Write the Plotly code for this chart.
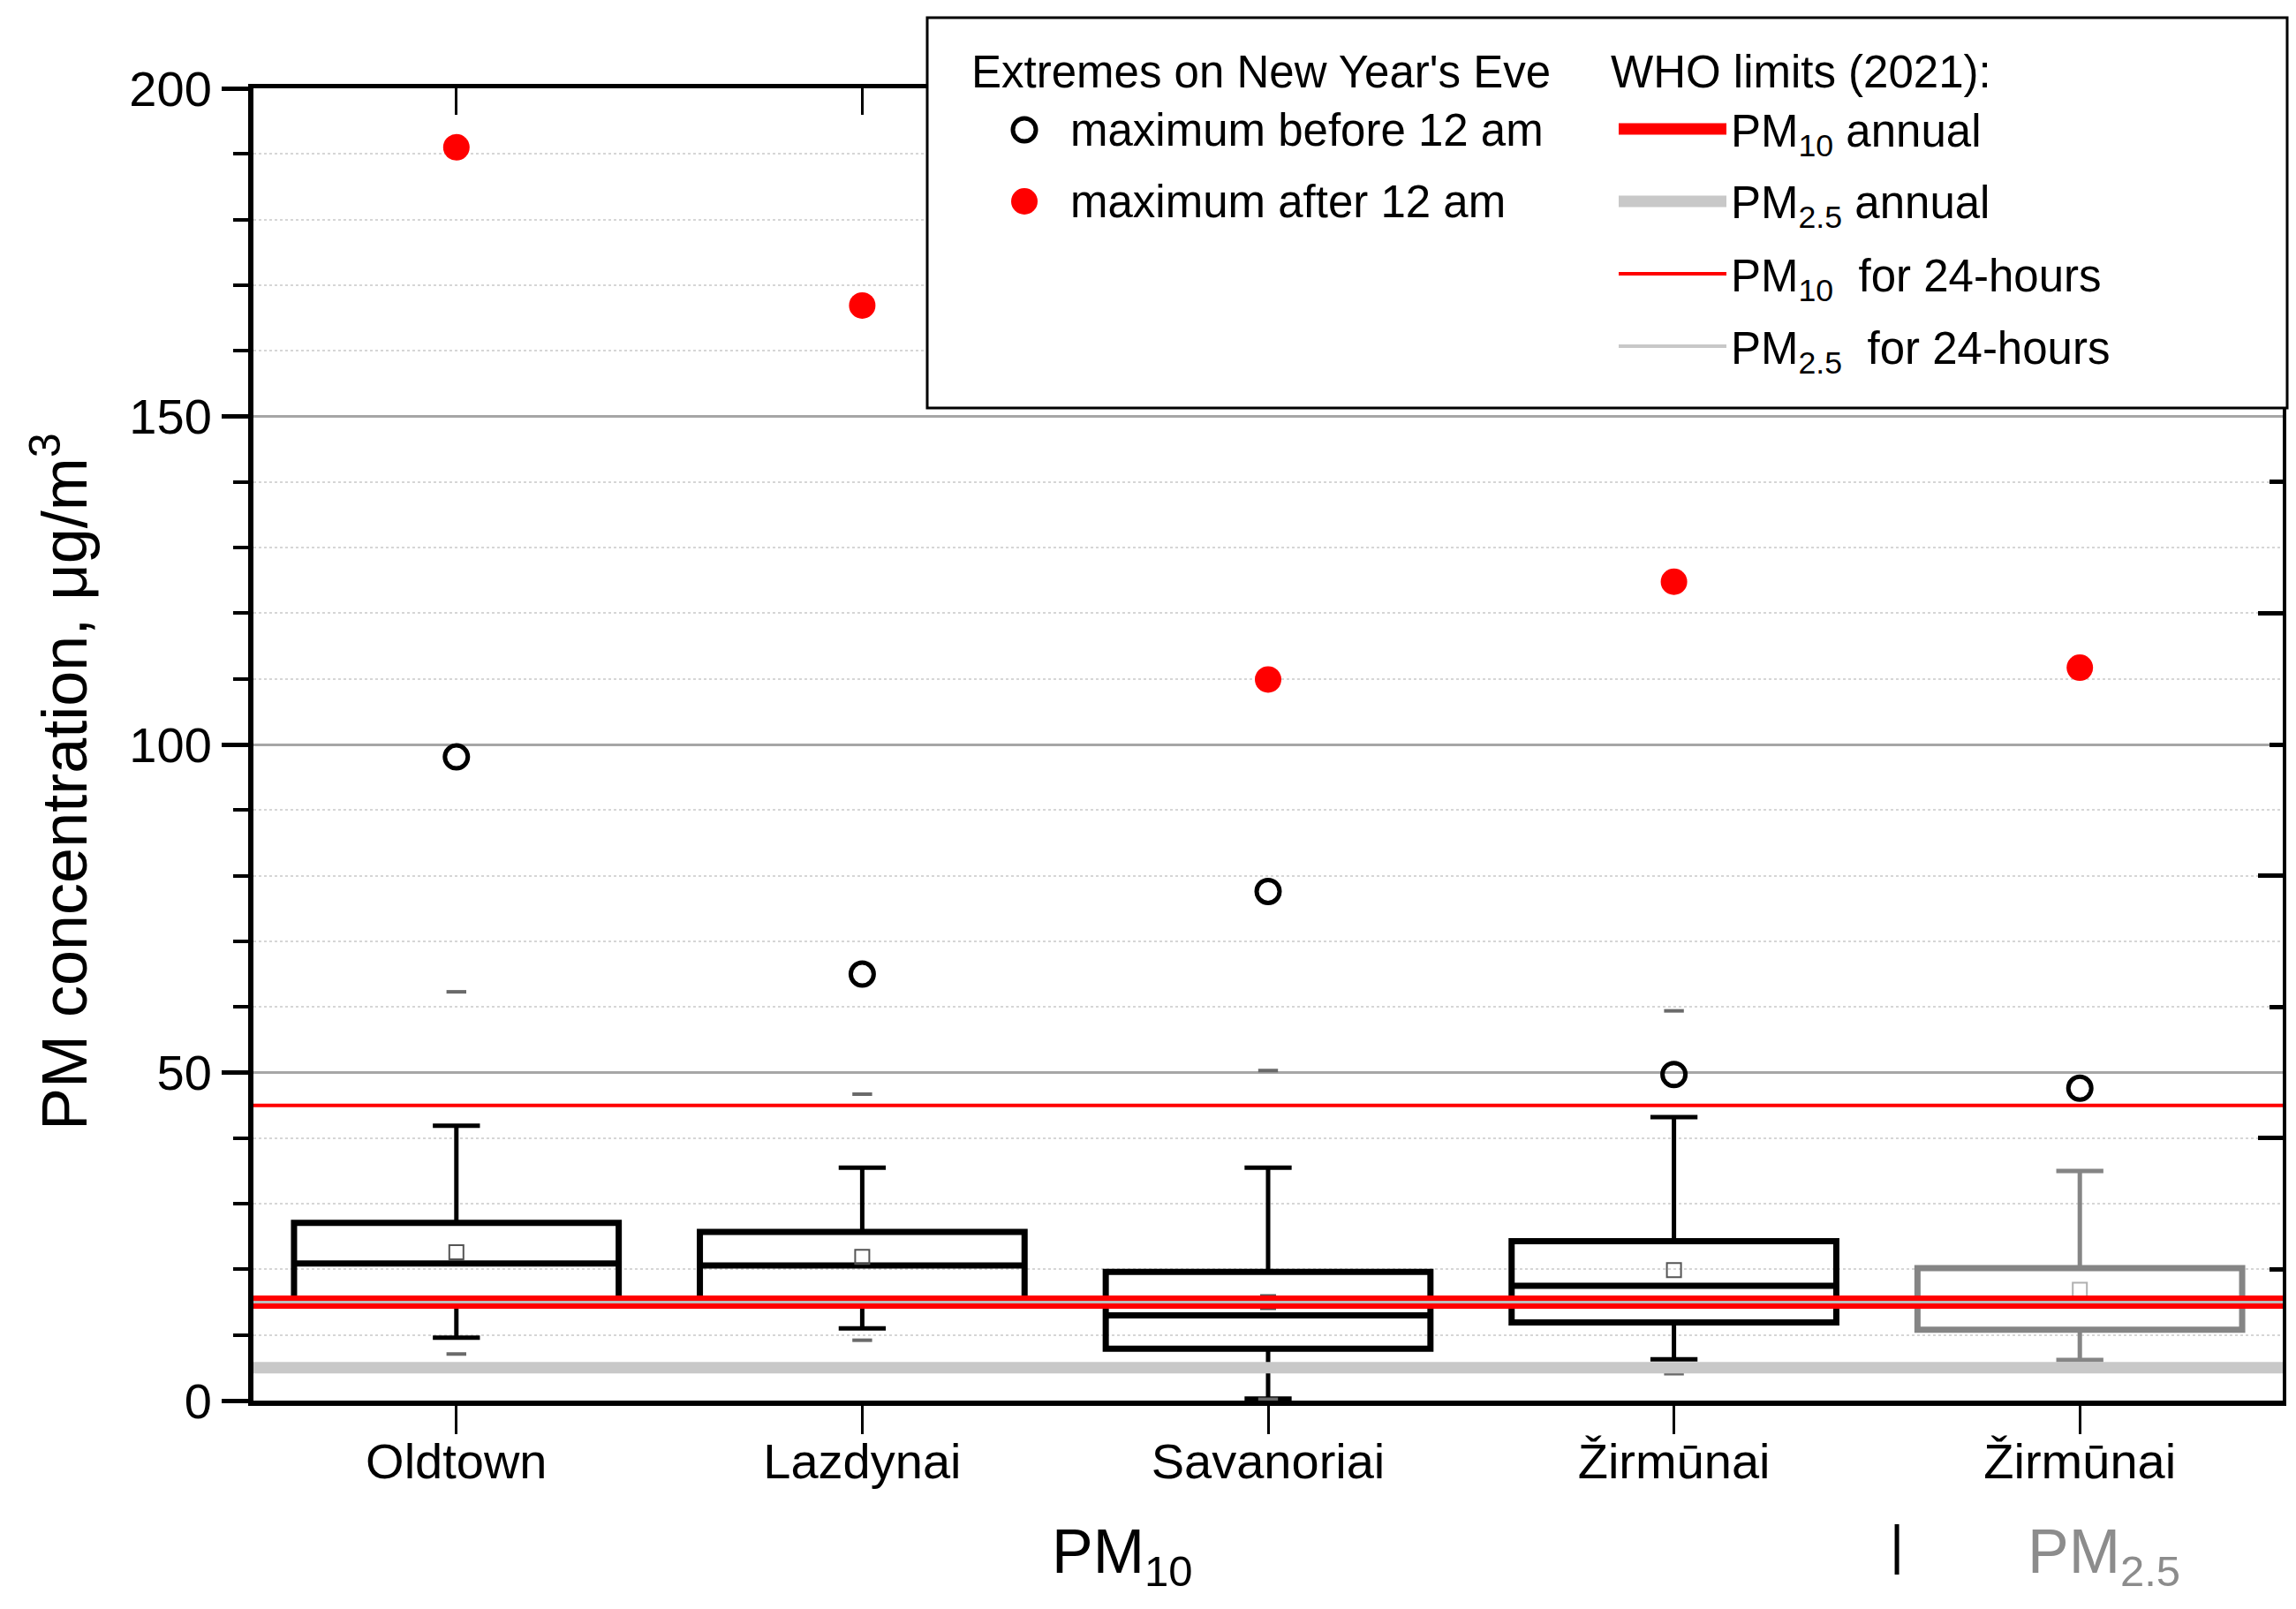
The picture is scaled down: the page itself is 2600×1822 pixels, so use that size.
import plotly.graph_objects as go

# ---------------- data ----------------
categories = ["Oldtown", "Lazdynai", "Savanoriai", "Žirmūnai", "Žirmūnai"]
pollutant = ["PM10", "PM10", "PM10", "PM10", "PM2.5"]

q1 = [15.2, 15.4, 7.9, 11.9, 10.8]
median = [20.9, 20.6, 13.0, 17.5, 15.0]
q3 = [27.1, 25.7, 19.6, 24.3, 20.2]
whisker_low = [9.6, 11.0, 0.3, 6.3, 6.2]
whisker_high = [41.9, 35.5, 35.5, 43.2, 35.0]
mean = [22.6, 21.9, 15.0, 19.9, 16.9]
data_min = [7.1, 9.2, 0.2, 4.1, 5.0]
data_max = [62.3, 46.7, 50.3, 59.4, None]

max_before_midnight = [98.1, 65.0, 77.6, 49.7, 47.6]
max_after_midnight = [191.0, 166.9, 109.9, 124.8, 111.7]

who_names = ["PM2.5 annual", "PM10 annual", "PM2.5 for 24-hours", "PM10 for 24-hours"]
who_values = [5, 15, 15, 45]

# ---------------- style ----------------
FONT = "Liberation Sans, Arial, sans-serif"
OFF = 8                      # page body margin
W, H = 2600 - 2 * OFF, 1822 - 2 * OFF
# plot-area edges in screenshot pixels
L, R, T, B = 287, 2585, 100, 1586


def px(X):
    return (X - L) / (R - L)


def py(Y):
    return (B - Y) / (B - T)


pos = list(range(1, len(categories) + 1))
pm10_idx = [i for i, p in enumerate(pollutant) if p == "PM10"]
pm25_idx = [i for i, p in enumerate(pollutant) if p == "PM2.5"]

fig = go.Figure()


def add_boxes(idx, color):
    sel = lambda a: [a[i] for i in idx]
    # whiskers (thinner line)
    fig.add_trace(go.Box(
        x=sel(pos), q1=sel(q1), median=sel(median), q3=sel(q3),
        lowerfence=sel(whisker_low), upperfence=sel(whisker_high),
        width=0.8, whiskerwidth=0.145, boxpoints=False,
        line=dict(color=color, width=5),
        fillcolor="rgba(0,0,0,0)", showlegend=False, hoverinfo="skip",
    ))
    # box body (thicker line)
    fig.add_trace(go.Box(
        x=sel(pos), q1=sel(q1), median=sel(median), q3=sel(q3),
        lowerfence=sel(q1), upperfence=sel(q3),
        width=0.8, whiskerwidth=0, boxpoints=False,
        line=dict(color=color, width=7),
        fillcolor="rgba(0,0,0,0)", showlegend=False, hoverinfo="skip",
    ))


add_boxes(pm10_idx, "black")
add_boxes(pm25_idx, "#858585")

# mean squares
fig.add_trace(go.Scatter(
    x=pos, y=mean, mode="markers", showlegend=False, hoverinfo="skip",
    marker=dict(symbol="square-open", size=16,
                color=["#555555" if p == "PM10" else "#b0b0b0" for p in pollutant],
                line=dict(width=2)),
))
# min / max dashes
fig.add_trace(go.Scatter(
    x=pos + pos, y=data_min + data_max, mode="markers", showlegend=False, hoverinfo="skip",
    marker=dict(symbol="line-ew", size=16, line=dict(width=4, color="#6a6a6a")),
))
# extremes on New Year's Eve
fig.add_trace(go.Scatter(
    x=pos, y=max_before_midnight, mode="markers", showlegend=False, hoverinfo="skip",
    marker=dict(symbol="circle-open", size=26, color="black", line=dict(width=5, color="black")),
))
fig.add_trace(go.Scatter(
    x=pos, y=max_after_midnight, mode="markers", showlegend=False, hoverinfo="skip",
    marker=dict(symbol="circle", size=30, color="#ff0000", line=dict(width=0)),
))
# dummy trace for the mirrored axes
fig.add_trace(go.Scatter(x=[None], y=[None], xaxis="x2", yaxis="y2", showlegend=False))

# WHO limit lines
who_style = {
    "PM2.5 annual": dict(color="#c8c8c8", width=13, layer="above"),
    "PM10 annual": dict(color="#ff0000", width=15, layer="above"),
    "PM2.5 for 24-hours": dict(color="#bdbdbd", width=3, layer="above"),
    "PM10 for 24-hours": dict(color="#ff0000", width=4, layer="above"),
}
shapes = []
for name, v in zip(who_names, who_values):
    st = who_style[name]
    shapes.append(dict(type="line", xref="paper", yref="y", x0=0, x1=1, y0=v, y1=v,
                       line=dict(color=st["color"], width=st["width"]), layer=st["layer"]))

# legend frame
shapes.append(dict(type="rect", xref="paper", yref="paper",
                   x0=px(1050), x1=px(2590), y0=py(462), y1=py(20),
                   fillcolor="white", line=dict(color="black", width=3), layer="above"))
# legend keys
shapes.append(dict(type="circle", xref="paper", yref="paper", xsizemode="pixel", ysizemode="pixel",
                   xanchor=px(1160), yanchor=py(147), x0=-13, x1=13, y0=-13, y1=13,
                   line=dict(color="black", width=5), layer="above"))
shapes.append(dict(type="circle", xref="paper", yref="paper", xsizemode="pixel", ysizemode="pixel",
                   xanchor=px(1160), yanchor=py(228), x0=-15, x1=15, y0=-15, y1=15,
                   fillcolor="#ff0000", line=dict(color="#ff0000", width=0), layer="above"))
key_rows = [("#ff0000", 13, 146), ("#c8c8c8", 13, 228), ("#ff0000", 4, 310), ("#c8c8c8", 4, 392)]
for col, wd, yy in key_rows:
    shapes.append(dict(type="line", xref="paper", yref="paper", x0=px(1833), x1=px(1955),
                       y0=py(yy), y1=py(yy), line=dict(color=col, width=wd), layer="above"))

annotations = []


def ann(text, X, Y, size=51, color="black", xanchor="left", yanchor="middle", **kw):
    annotations.append(dict(text=text, x=px(X), y=py(Y), xref="paper", yref="paper",
                            xanchor=xanchor, yanchor=yanchor, showarrow=False,
                            font=dict(family=FONT, size=size, color=color), **kw))


ann("Extremes on New Year's Eve", 1098, 82)
ann("WHO limits (2021):", 1822, 82)
ann("maximum before 12 am", 1210, 147)
ann("maximum after 12 am", 1210, 228)
ann("PM<sub>10</sub> annual", 1958, 152)
ann("PM<sub>2.5</sub> annual", 1958, 234)
ann("PM<sub>10</sub>&nbsp; for 24-hours", 1958, 316)
ann("PM<sub>2.5</sub>&nbsp; for 24-hours", 1958, 398)

# y-axis title
annotations.append(dict(text="PM concentration, μg/m<sup>3</sup>", x=px(68), y=py(885),
                        xref="paper", yref="paper", showarrow=False, textangle=-90,
                        xanchor="center", yanchor="middle",
                        font=dict(family=FONT, size=72, color="black")))
# group labels under the axis
annotations.append(dict(text="PM<sub>10</sub>", x=2.64, y=py(1762), xref="x", yref="paper",
                        showarrow=False, xanchor="center", yanchor="middle",
                        font=dict(family=FONT, size=70, color="black")))
annotations.append(dict(text="|", x=4.55, y=py(1748), xref="x", yref="paper",
                        showarrow=False, xanchor="center", yanchor="middle",
                        font=dict(family=FONT, size=62, color="black")))
annotations.append(dict(text="PM<sub>2.5</sub>", x=5.06, y=py(1762), xref="x", yref="paper",
                        showarrow=False, xanchor="center", yanchor="middle",
                        font=dict(family=FONT, size=70, color="#8c8c8c")))

fig.update_layout(
    width=W, height=H,
    margin=dict(l=L - OFF, r=W - (R - OFF), t=T - OFF, b=H - (B - OFF), pad=0),
    paper_bgcolor="white", plot_bgcolor="white",
    font=dict(family=FONT, color="black"),
    shapes=shapes, annotations=annotations,
    xaxis=dict(range=[0.5, 5.5], tickvals=pos, ticktext=categories,
               showline=True, linecolor="black", linewidth=6,
               ticks="outside", ticklen=32, tickwidth=3, tickcolor="black",
               ticklabelstandoff=-17,
               showgrid=False, zeroline=False, tickfont=dict(size=56, family=FONT)),
    yaxis=dict(range=[0, 200], tickvals=[0, 50, 100, 150, 200],
               showline=True, linecolor="black", linewidth=6,
               ticks="outside", ticklen=30, tickwidth=5, tickcolor="black",
               showgrid=True, gridcolor="#a6a6a6", gridwidth=3, zeroline=False,
               tickfont=dict(size=56, family=FONT),
               minor=dict(dtick=10, ticks="outside", ticklen=17, tickwidth=4, tickcolor="black",
                          showgrid=True, gridcolor="#d6d6d6", griddash="dot", gridwidth=2)),
    xaxis2=dict(range=[0.5, 5.5], overlaying="x", side="top", anchor="y2",
                tickvals=pos, showticklabels=False, showline=True, linecolor="black", linewidth=5,
                ticks="inside", ticklen=30, tickwidth=3, tickcolor="black",
                showgrid=False, zeroline=False),
    yaxis2=dict(range=[0, 200], overlaying="y", side="right", anchor="x2",
                dtick=40, showticklabels=False, showline=True, linecolor="black", linewidth=4,
                ticks="inside", ticklen=28, tickwidth=5, tickcolor="black",
                minor=dict(dtick=20, ticks="inside", ticklen=15, tickwidth=5, tickcolor="black",
                           showgrid=False),
                showgrid=False, zeroline=False),
)

fig.write_html("out.html")
